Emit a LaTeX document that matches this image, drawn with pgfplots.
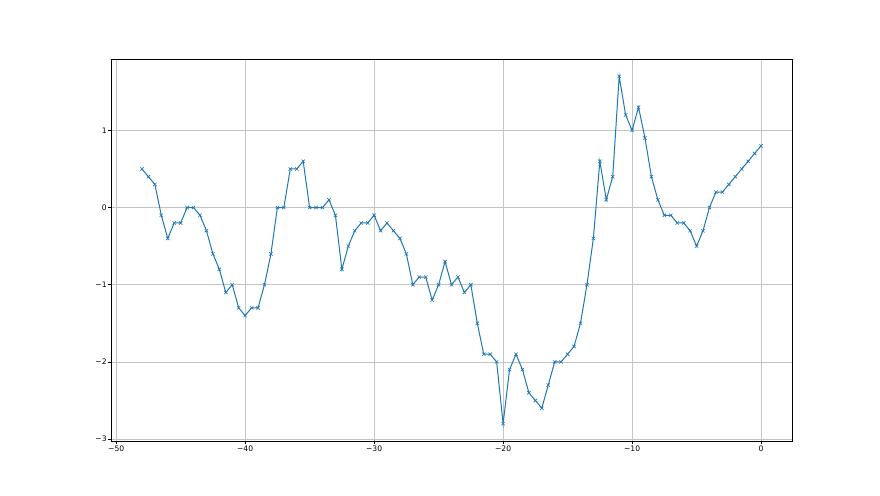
\documentclass[border=0pt]{standalone}
\usepackage{fontspec}
\setmainfont{DejaVu Sans}
\usepackage{pgfplots}
\pgfplotsset{compat=1.18}
\definecolor{mplblue}{HTML}{1F77B4}
\definecolor{mplgrid}{HTML}{C4C4C4}
\begin{document}
\begin{tikzpicture}[x=1pt,y=1pt]
\useasboundingbox (0,0) rectangle (880,495);
\begin{axis}[
  at={(111pt,54pt)}, anchor=south west,
  scale only axis, width=681pt, height=382pt,
  xmin=-50.4, xmax=2.4, ymin=-3.025, ymax=1.925,
  xtick={-50,-40,-30,-20,-10,0},
  xticklabels={−50,−40,−30,−20,−10,0},
  ytick={-3,-2,-1,0,1},
  yticklabels={−3,−2,−1,0,1},
  grid=major,
  major grid style={color=mplgrid, line width=0.6pt},
  axis line style={line width=0.6pt, black},
  tick style={line width=0.6pt, black},
  tick align=outside, major tick length=2.7pt,
  xtick pos=bottom, ytick pos=left,
  ticklabel style={font=\fontsize{7.6}{9}\selectfont, inner sep=1.5pt},
  /pgf/number format/assume math mode=true,
]
\addplot[color=mplblue, line width=1.0pt, mark=x, mark size=2.4pt, mark options={line width=0.6pt}] coordinates {
(-48,0.5) (-47.5,0.4) (-47,0.3) (-46.5,-0.1) (-46,-0.4) (-45.5,-0.2) (-45,-0.2) (-44.5,0) (-44,0) (-43.5,-0.1)
(-43,-0.3) (-42.5,-0.6) (-42,-0.8) (-41.5,-1.1) (-41,-1.0) (-40.5,-1.3) (-40,-1.4) (-39.5,-1.3) (-39,-1.3) (-38.5,-1.0)
(-38,-0.6) (-37.5,0) (-37,0) (-36.5,0.5) (-36,0.5) (-35.5,0.6) (-35,0) (-34.5,0) (-34,0) (-33.5,0.1)
(-33,-0.1) (-32.5,-0.8) (-32,-0.5) (-31.5,-0.3) (-31,-0.2) (-30.5,-0.2) (-30,-0.1) (-29.5,-0.3) (-29,-0.2) (-28.5,-0.3)
(-28,-0.4) (-27.5,-0.6) (-27,-1.0) (-26.5,-0.9) (-26,-0.9) (-25.5,-1.2) (-25,-1.0) (-24.5,-0.7) (-24,-1.0) (-23.5,-0.9)
(-23,-1.1) (-22.5,-1.0) (-22,-1.5) (-21.5,-1.9) (-21,-1.9) (-20.5,-2.0) (-20,-2.8) (-19.5,-2.1) (-19,-1.9) (-18.5,-2.1)
(-18,-2.4) (-17.5,-2.5) (-17,-2.6) (-16.5,-2.3) (-16,-2.0) (-15.5,-2.0) (-15,-1.9) (-14.5,-1.8) (-14,-1.5) (-13.5,-1.0)
(-13,-0.4) (-12.5,0.6) (-12,0.1) (-11.5,0.4) (-11,1.7) (-10.5,1.2) (-10,1.0) (-9.5,1.3) (-9,0.9) (-8.5,0.4)
(-8,0.1) (-7.5,-0.1) (-7,-0.1) (-6.5,-0.2) (-6,-0.2) (-5.5,-0.3) (-5,-0.5) (-4.5,-0.3) (-4,0) (-3.5,0.2)
(-3,0.2) (-2.5,0.3) (-2,0.4) (-1.5,0.5) (-1,0.6) (-0.5,0.7) (0,0.8)
};
\end{axis}
\end{tikzpicture}
\end{document}
